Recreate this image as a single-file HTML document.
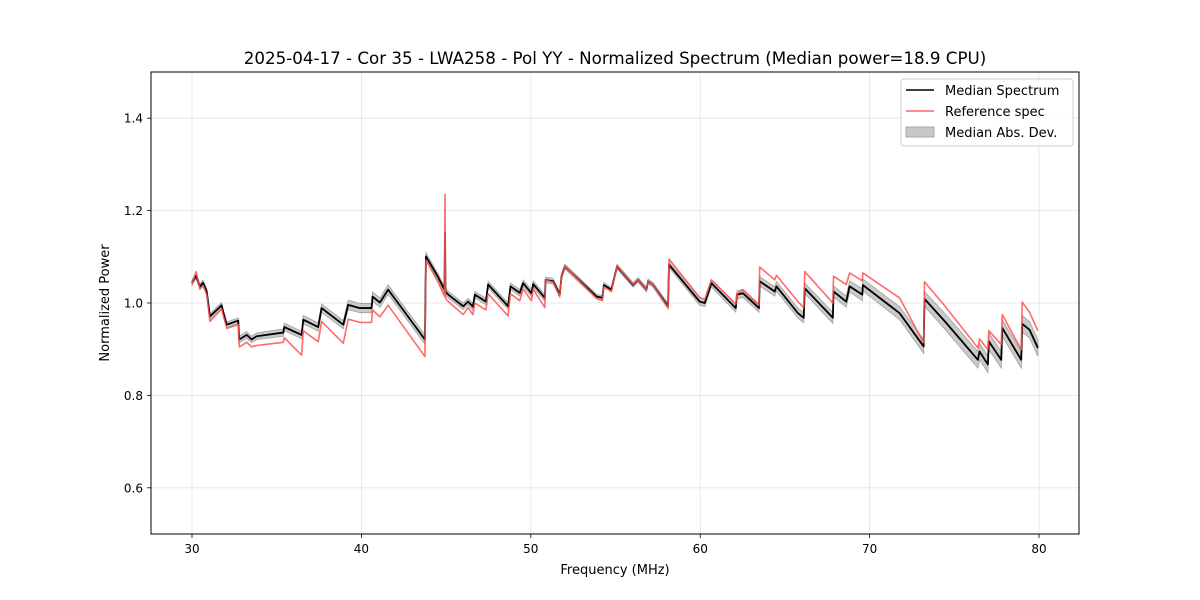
<!DOCTYPE html>
<html><head><meta charset="utf-8"><style>
html,body{margin:0;padding:0;background:#fff;}
svg{display:block;font-family:"DejaVu Sans","Liberation Sans",sans-serif;}
</style></head><body>
<svg id="chart" width="1200" height="600" viewBox="0 0 1200 600" xmlns="http://www.w3.org/2000/svg">
<rect width="1200" height="600" fill="#fff"/>
<text x="615" y="64" text-anchor="middle" font-size="16.7" fill="#000">2025-04-17 - Cor 35 - LWA258 - Pol YY - Normalized Spectrum (Median power=18.9 CPU)</text>
<g id="grid"></g>
<g id="series"></g>
<rect x="151" y="72" width="928" height="462" fill="none" stroke="#000" stroke-width="1"/>
<g id="ticks"></g>
<text x="615" y="574" text-anchor="middle" font-size="13">Frequency (MHz)</text>
<text transform="translate(109,303) rotate(-90)" text-anchor="middle" font-size="13">Normalized Power</text>
<g>
<rect x="901" y="79" width="172" height="67" rx="3" fill="#fff" fill-opacity="0.8" stroke="#ccc"/>
<line x1="906" y1="90" x2="934" y2="90" stroke="#000" stroke-width="1.5"/>
<text x="945" y="95" font-size="13">Median Spectrum</text>
<line x1="906" y1="111" x2="934" y2="111" stroke="#ff6060" stroke-width="1.5"/>
<text x="945" y="116" font-size="13">Reference spec</text>
<rect x="906" y="127" width="28" height="10" fill="#c8c8c8" stroke="#aaa"/>
<text x="945" y="137" font-size="13">Median Abs. Dev.</text>
</g>
</svg>
<script>
const freq=[30.00,30.24,30.47,30.65,30.87,31.06,31.75,31.83,32.05,32.73,32.79,33.23,33.52,33.82,35.39,35.45,36.47,36.57,37.45,37.65,38.93,39.22,39.91,40.60,40.66,41.09,41.58,43.75,43.81,44.53,44.90,44.94,44.96,45.13,46.01,46.30,46.58,46.70,47.35,47.48,48.66,48.80,49.35,49.55,50.04,50.14,50.83,50.87,51.32,51.71,51.81,52.01,53.88,54.23,54.31,54.76,55.09,56.04,56.33,56.83,56.92,57.22,58.10,58.16,59.97,60.27,60.66,62.10,62.17,62.53,63.47,63.51,64.40,64.50,65.77,66.11,66.17,67.83,67.87,68.62,68.82,69.57,69.60,71.77,73.19,73.24,74.52,76.39,76.49,76.98,77.04,77.77,77.83,78.95,79.01,79.44,79.93];
const median=[1.044,1.059,1.035,1.044,1.025,0.971,0.995,0.982,0.953,0.962,0.921,0.931,0.921,0.928,0.936,0.948,0.931,0.964,0.948,0.989,0.953,0.996,0.989,0.989,1.014,1.001,1.029,0.921,1.101,1.056,1.029,1.152,1.025,1.018,0.993,1.003,0.992,1.018,1.003,1.040,0.993,1.036,1.022,1.043,1.021,1.041,1.011,1.050,1.047,1.018,1.057,1.079,1.014,1.011,1.039,1.029,1.079,1.039,1.050,1.029,1.047,1.039,0.993,1.083,1.003,1.000,1.043,0.989,1.018,1.021,0.989,1.047,1.025,1.036,0.978,0.968,1.032,0.968,1.025,1.003,1.036,1.018,1.039,0.978,0.906,1.009,0.957,0.877,0.895,0.867,0.917,0.877,0.946,0.877,0.955,0.942,0.903];
const reference=[1.040,1.068,1.030,1.038,1.018,0.960,0.987,0.975,0.945,0.953,0.905,0.915,0.905,0.908,0.915,0.925,0.887,0.940,0.916,0.960,0.913,0.965,0.958,0.958,0.985,0.970,0.995,0.884,1.093,1.045,1.015,1.235,1.010,1.003,0.975,0.990,0.975,1.000,0.985,1.020,0.972,1.020,1.005,1.030,1.005,1.030,0.990,1.050,1.045,1.015,1.055,1.080,1.010,1.005,1.035,1.025,1.080,1.040,1.050,1.029,1.047,1.039,0.990,1.095,1.012,1.008,1.050,0.998,1.020,1.028,0.995,1.078,1.050,1.060,1.003,0.990,1.068,1.000,1.058,1.040,1.065,1.048,1.065,1.011,0.914,1.046,0.990,0.903,0.922,0.899,0.940,0.910,0.975,0.899,1.002,0.980,0.940];
const mad=[0.006,0.006,0.006,0.006,0.006,0.006,0.006,0.006,0.006,0.006,0.007,0.007,0.007,0.007,0.008,0.008,0.008,0.009,0.009,0.009,0.009,0.010,0.010,0.010,0.010,0.010,0.010,0.010,0.008,0.007,0.007,0.007,0.007,0.007,0.007,0.007,0.007,0.007,0.007,0.007,0.007,0.007,0.007,0.007,0.007,0.007,0.007,0.006,0.006,0.006,0.006,0.005,0.005,0.005,0.005,0.005,0.005,0.005,0.005,0.005,0.005,0.005,0.006,0.006,0.008,0.008,0.008,0.009,0.009,0.009,0.009,0.010,0.010,0.010,0.011,0.011,0.011,0.012,0.012,0.012,0.012,0.013,0.013,0.014,0.015,0.016,0.017,0.018,0.018,0.018,0.018,0.018,0.018,0.018,0.018,0.018,0.018];
const xTicks=[30,40,50,60,70,80];
const yTicks=[0.6,0.8,1.0,1.2,1.4];
const X0=151,X1=1079,Y0=72,Y1=534,XMIN=27.58,XMAX=82.36,YMIN=0.5,YMAX=1.5;
const NS='http://www.w3.org/2000/svg';
function sx(f){return X0+(f-XMIN)/(XMAX-XMIN)*(X1-X0);}
function sy(v){return Y1-(v-YMIN)/(YMAX-YMIN)*(Y1-Y0);}
function mk(tag,attrs,parent){const e=document.createElementNS(NS,tag);for(const k in attrs)e.setAttribute(k,attrs[k]);parent.appendChild(e);return e;}
const grid=document.getElementById('grid'),ticks=document.getElementById('ticks'),series=document.getElementById('series');
xTicks.forEach(t=>{const x=sx(t);
 const g=mk('line',{x1:x,y1:Y0,x2:x,y2:Y1,stroke:'#b0b0b0','stroke-opacity':0.35,'stroke-width':0.8},grid);
 
 
 const tk=mk('line',{x1:x,y1:Y1,x2:x,y2:Y1+4,stroke:'#000','stroke-width':0.8},ticks);
 
 
 const tl=mk('text',{x:x,y:Y1+19,'text-anchor':'middle','font-size':12},ticks);tl.textContent=t;
 
 
});
yTicks.forEach(t=>{const y=sy(t);
 const g=mk('line',{x1:X0,y1:y,x2:X1,y2:y,stroke:'#b0b0b0','stroke-opacity':0.35,'stroke-width':0.8},grid);
 
 
 const tk=mk('line',{x1:X0-4,y1:y,x2:X0,y2:y,stroke:'#000','stroke-width':0.8},ticks);
 
 
 const tl=mk('text',{x:X0-8,y:y+4.5,'text-anchor':'end','font-size':12},ticks);tl.textContent=t.toFixed(1);
 
 
});
let up=[],dn=[];
for(let i=0;i<freq.length;i++){up.push(sx(freq[i])+','+sy(median[i]+mad[i]));dn.unshift(sx(freq[i])+','+sy(median[i]-mad[i]));}
const band=mk('polygon',{points:up.concat(dn).join(' '),fill:'#b4b4b4','fill-opacity':0.7,stroke:'#a0a0a0','stroke-width':0.8},series);


const med=mk('polyline',{points:freq.map((f,i)=>sx(f)+','+sy(median[i])).join(' '),fill:'none',stroke:'#000','stroke-width':1.8,'stroke-linejoin':'round'},series);


const ref=mk('polyline',{points:freq.map((f,i)=>sx(f)+','+sy(reference[i])).join(' '),fill:'none',stroke:'#ff5050','stroke-opacity':0.85,'stroke-width':1.6,'stroke-linejoin':'round'},series);


</script>
</body></html>
